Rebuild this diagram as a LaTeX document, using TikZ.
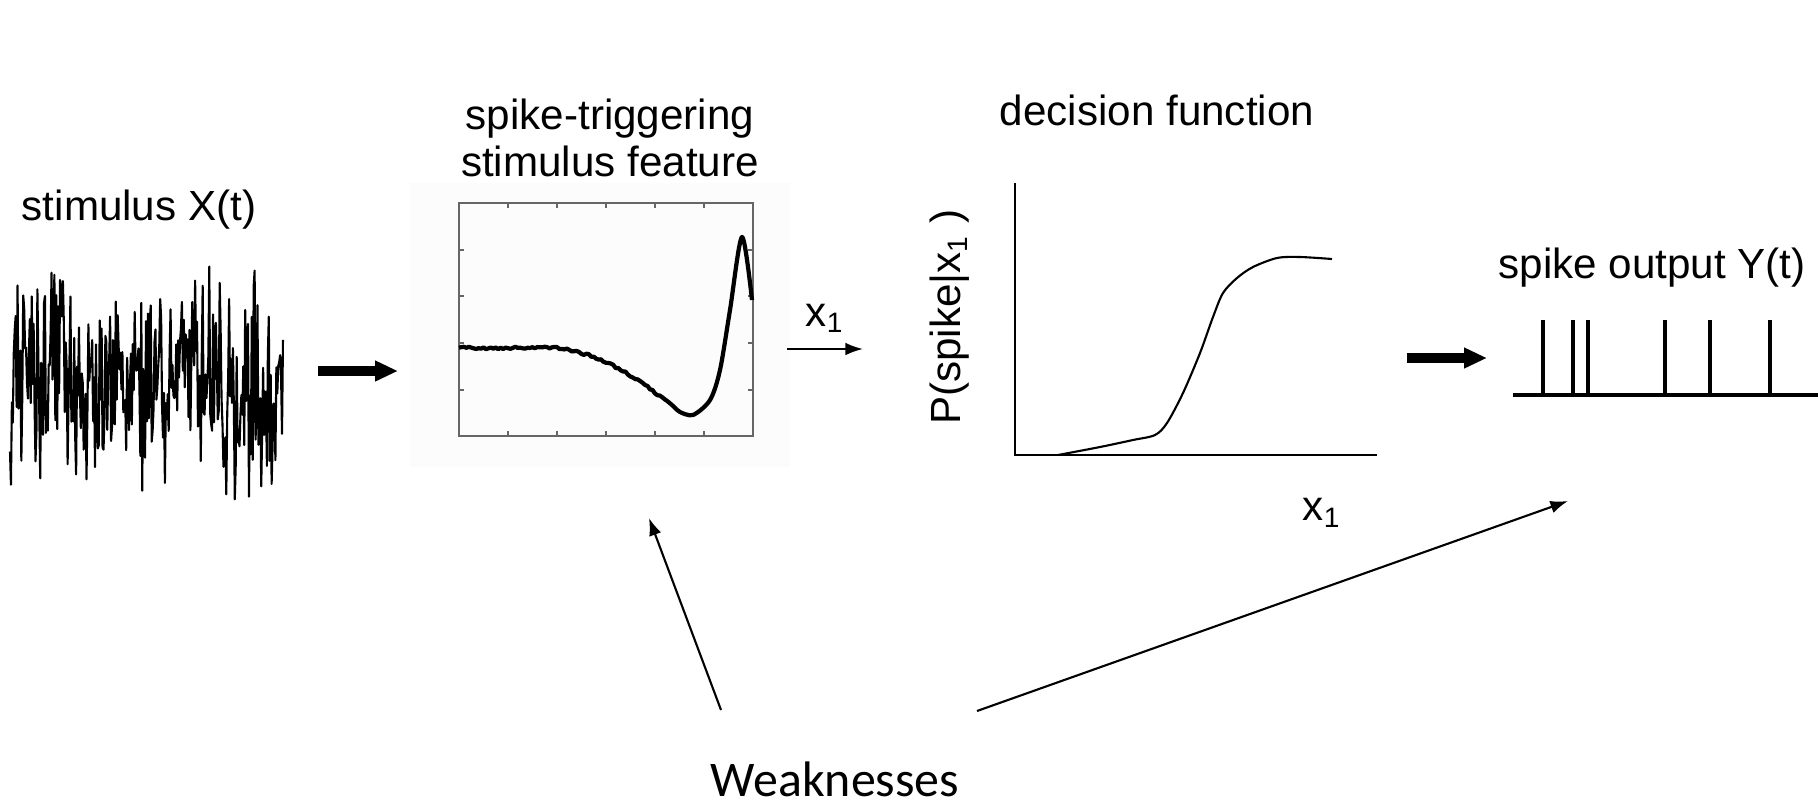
\documentclass[tikz,border=0pt]{standalone}
\usepackage{fontspec}
\setmainfont{Liberation Sans}
\newfontfamily\weakfont{Carlito}
\usetikzlibrary{arrows.meta}

\begin{document}
\begin{tikzpicture}[font=\fontsize{12}{13.5}\selectfont,
  bigarrow/.style={-{Triangle[length=6.5pt,width=5.5pt]},line width=3pt},
  thinarrow/.style={-{Latex[length=5pt,width=3.6pt]},line width=0.6pt}]
\useasboundingbox (0,0) rectangle (18.18,-8.05);

\begin{scope}[every node/.style={align=center,inner sep=0pt}]
\node (stimlabel) at (1.39,-2.10) {stimulus X(t)};
\node (featlabel) at (6.10,-1.38) {spike-triggering\\stimulus feature};
\node (declabel) at (11.57,-1.10) {decision function};
\node (outlabel) at (16.52,-2.68) {spike output Y(t)};
\node (weak) at (8.35,-7.79) {\weakfont\fontsize{14.2}{16}\selectfont Weaknesses};
\node (flabel) at (5.00,-2.57) {f\textsubscript{1}};
\node (xlabel) at (13.22,-5.13) {x\textsubscript{1}};
\node (plabel) [rotate=90] at (9.50,-3.17) {P(spike|x\textsubscript{1} )};
\end{scope}

% stimulus X(t)
\pgfmathsetseed{17}
\draw[line width=0.6pt,line join=round] plot[domain=0.10:2.83,samples=290]
  (\x,{-3.84+0.08*sin(260*\x)+0.82*rand+0.48*rand});

% feature panel
\node (featbg) [fill=black!1,minimum width=3.8cm,minimum height=2.84cm,inner sep=0pt] at (6.00,-3.25) {};
\node (feat) [draw=black!60,line width=0.4pt,minimum width=2.94cm,minimum height=2.33cm,inner sep=0pt] at (6.06,-3.195) {};
\foreach \t in {5.08,5.57,6.06,6.55,7.04} {
  \draw[black!60,line width=0.4pt] (\t,-4.36) -- ++(0,0.05) (\t,-2.03) -- ++(0,-0.05);
}
\foreach \t in {-2.50,-2.96,-3.43,-3.90} {
  \draw[black!60,line width=0.4pt] (4.59,\t) -- ++(0.05,0) (7.53,\t) -- ++(-0.05,0);
}
\draw[line width=1.2pt,line join=round]
  plot[domain=4.59:6.77,samples=90] (\x,{-3.48-0.65*(max((\x-5.5)/1.3,0.001))^1.8+0.013*rand})
  -- plot[smooth,tension=0.5] coordinates {(6.80,-4.12) (6.93,-4.15) (7.10,-4.00)
  (7.20,-3.70) (7.30,-3.10) (7.42,-2.37) (7.52,-3.00)};

% decision function
\coordinate (origin) at (10.15,-4.55);
\draw[line width=0.7pt] (10.15,-1.83) -- (origin) -- (13.77,-4.55);
\draw[line width=0.6pt] plot[smooth,tension=0.5] coordinates {(10.58,-4.55) (11.00,-4.47)
  (11.33,-4.40) (11.55,-4.35) (11.67,-4.23) (11.83,-3.93) (12.00,-3.53) (12.13,-3.17)
  (12.23,-2.93) (12.37,-2.78) (12.53,-2.67) (12.77,-2.58) (13.00,-2.57) (13.32,-2.59)};

% spike output Y(t)
\draw[line width=1.4pt] (15.13,-3.95) -- (18.18,-3.95);
\foreach \s in {15.43,15.73,15.88,16.65,17.10,17.70} {
  \draw[line width=1.4pt] (\s,-3.95) -- (\s,-3.20);
}

% connectors
\coordinate (a1s) at (3.18,-3.71);
\coordinate (a1e) at (3.98,-3.71);
\coordinate (a2s) at (14.07,-3.58);
\coordinate (a2e) at (14.87,-3.58);
\coordinate (x1s) at (7.87,-3.49);
\coordinate (x1e) at (8.63,-3.49);
\coordinate (w1s) at (7.21,-7.10);
\coordinate (w1e) at (6.49,-5.18);
\coordinate (w2s) at (9.77,-7.11);
\coordinate (w2e) at (15.68,-5.01);
\draw[bigarrow] (a1s) -- (a1e);
\draw[bigarrow] (a2s) -- (a2e);
\draw[thinarrow] (x1s) -- node[above=1pt] {x\textsubscript{1}} (x1e);
\draw[thinarrow] (w1s) -- (w1e);
\draw[thinarrow] (w2s) -- (w2e);
\end{tikzpicture}
\end{document}
